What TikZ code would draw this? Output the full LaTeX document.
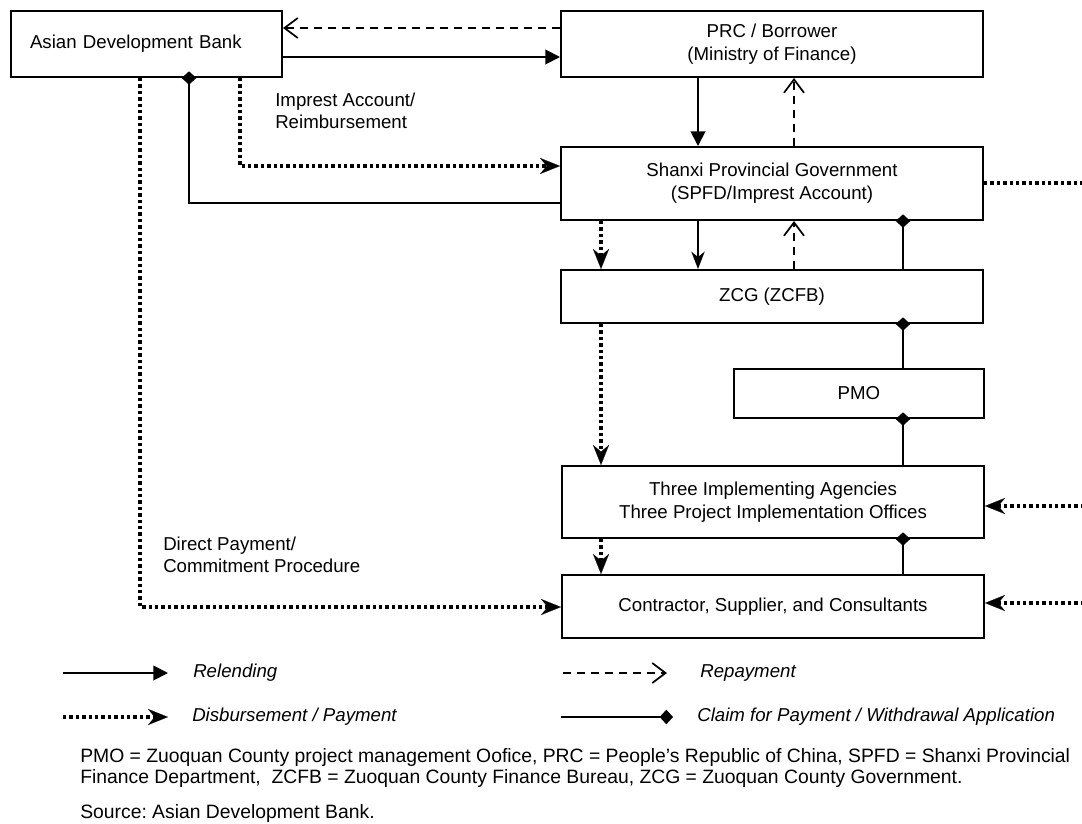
\documentclass[tikz,border=0pt]{standalone}
\usepackage{fontspec}
\setmainfont{Liberation Sans}
\usetikzlibrary{arrows.meta}
\frenchspacing
\begin{document}
\begin{tikzpicture}[x=0.75pt,y=-0.75pt,
  box/.style={draw,line width=1.5pt,inner sep=0pt,align=center,
    font=\fontsize{14}{17}\selectfont},
  wide/.style={box,minimum width=316.5pt},
  lbl/.style={anchor=west,inner sep=0pt,align=left,font=\fontsize{14}{16.5}\selectfont},
  leg/.style={anchor=west,inner sep=0pt,font=\fontsize{14}{16.5}\selectfont\itshape},
  rel/.style={line width=1.4pt,-{Triangle[length=11pt,width=11pt]}},
  relb/.style={line width=1.4pt,-{Stealth[length=13pt,width=10pt,inset=4pt]}},
  rep/.style={line width=1.3pt,dash pattern=on 6pt off 4.5pt,-{Straight Barb[length=10pt,width=15pt,line width=1.3pt]}},
  dotl/.style={line width=2.6pt,dash pattern=on 2.6pt off 2.2pt},
  dis/.style={dotl,-{Stealth[length=15pt,width=12pt,inset=5pt,line width=0.1pt]}},
  clm/.style={line width=1.4pt,shorten >=-5pt,-{Diamond[length=10pt,width=11pt]}},
  clml/.style={line width=1.4pt,-{Diamond[length=10pt,width=11pt]}}]
\useasboundingbox (0,0) rectangle (1082,824);

% boxes
\node[box,minimum width=203.25pt,minimum height=49.5pt,inner xsep=14.25pt,
  text width=174.75pt,align=left] (ADB) at (146.5,44) {Asian Development Bank};
\node[wide,minimum height=49.5pt] (PRC) at (772,44) {PRC / Borrower\\(Ministry of Finance)};
\node[wide,minimum height=54.75pt] (SPG) at (772,183.5) {Shanxi Provincial Government\\(SPFD/Imprest Account)};
\node[wide,minimum height=39.75pt] (ZCG) at (772,296.5) {ZCG (ZCFB)};
\node[box,minimum width=187.5pt,minimum height=36.75pt] (PMO) at (859,393.5) {PMO};
\node[wide,minimum height=54pt] (TIA) at (773,502) {Three Implementing Agencies\\Three Project Implementation Offices};
\node[wide,minimum height=47.25pt] (CSC) at (773,606.5) {Contractor, Supplier, and Consultants};

% labels
\node[lbl] (impl) at (275,111) {Imprest Account/\\Reimbursement};
\node[lbl] (dirl) at (163,555) {Direct Payment/\\Commitment Procedure};

% connectors top
\draw[rep] (PRC.west |- 0,28) -- (ADB.east |- 0,28);
\draw[rel] (ADB.east |- 0,57) -- (PRC.west |- 0,57);
\draw[rel] (PRC.south -| 698,0) -- (SPG.north -| 698,0);
\draw[rep] (SPG.north -| 794,0) -- (PRC.south -| 794,0);
\draw[dis] (ADB.south -| 240,0) |- (SPG.west |- 0,166);
\draw[clm] (SPG.west |- 0,203) -| (ADB.south -| 189,0);
\draw[dis] (ADB.south -| 140,0) |- (CSC.west |- 0,607);

% middle
\draw[dis] (SPG.south -| 601,0) -- (ZCG.north -| 601,0);
\draw[relb] (SPG.south -| 698,0) -- (ZCG.north -| 698,0);
\draw[rep] (ZCG.north -| 794,0) -- (SPG.south -| 794,0);
\draw[clm] (ZCG.north -| 903,0) -- (SPG.south -| 903,0);
\draw[clm] (PMO.north -| 903,0) -- (ZCG.south -| 903,0);
\draw[clm] (TIA.north -| 903,0) -- (PMO.south -| 903,0);
\draw[clm] (CSC.north -| 903,0) -- (TIA.south -| 903,0);
\draw[dis] (ZCG.south -| 601,0) -- (TIA.north -| 601,0);
\draw[dis] (TIA.south -| 601,0) -- (CSC.north -| 601,0);

% right edge
\coordinate (rE1) at (1084,183);
\coordinate (rE2) at (1084,506);
\coordinate (rE3) at (1084,603);
\draw[dotl] (SPG.east |- rE1) -- (rE1);
\draw[dis] (rE2) -- (TIA.east |- rE2);
\draw[dis] (rE3) -- (CSC.east |- rE3);

% legend
\coordinate (l1a) at (63,673); \coordinate (l1b) at (168,673);
\coordinate (l2a) at (563,673); \coordinate (l2b) at (667,673);
\coordinate (l3a) at (63,717); \coordinate (l3b) at (168,717);
\coordinate (l4a) at (561,717); \coordinate (l4b) at (673,717);
\draw[rel] (l1a) -- (l1b);
\draw[rep] (l2a) -- (l2b);
\draw[dis] (l3a) -- (l3b);
\draw[clml] (l4a) -- (l4b);
\node[leg] (t1) at (193,673) {Relending};
\node[leg] (t2) at (700,673) {Repayment};
\node[leg] (t3) at (192,717) {Disbursement / Payment};
\node[leg] (t4) at (697,717) {Claim for Payment / Withdrawal Application};

% notes
\node[anchor=west,inner sep=0pt,align=left,font=\fontsize{14.5}{15.75}\selectfont] (fn) at (80,767.5)
  {PMO = Zuoquan County project management Oofice, PRC = People’s Republic of China, SPFD = Shanxi Provincial\\
   Finance Department,\ \ ZCFB = Zuoquan County Finance Bureau, ZCG = Zuoquan County Government.};
\node[anchor=west,inner sep=0pt,font=\fontsize{14.5}{15}\selectfont] (src) at (80,813) {Source: Asian Development Bank.};
\end{tikzpicture}
\end{document}
